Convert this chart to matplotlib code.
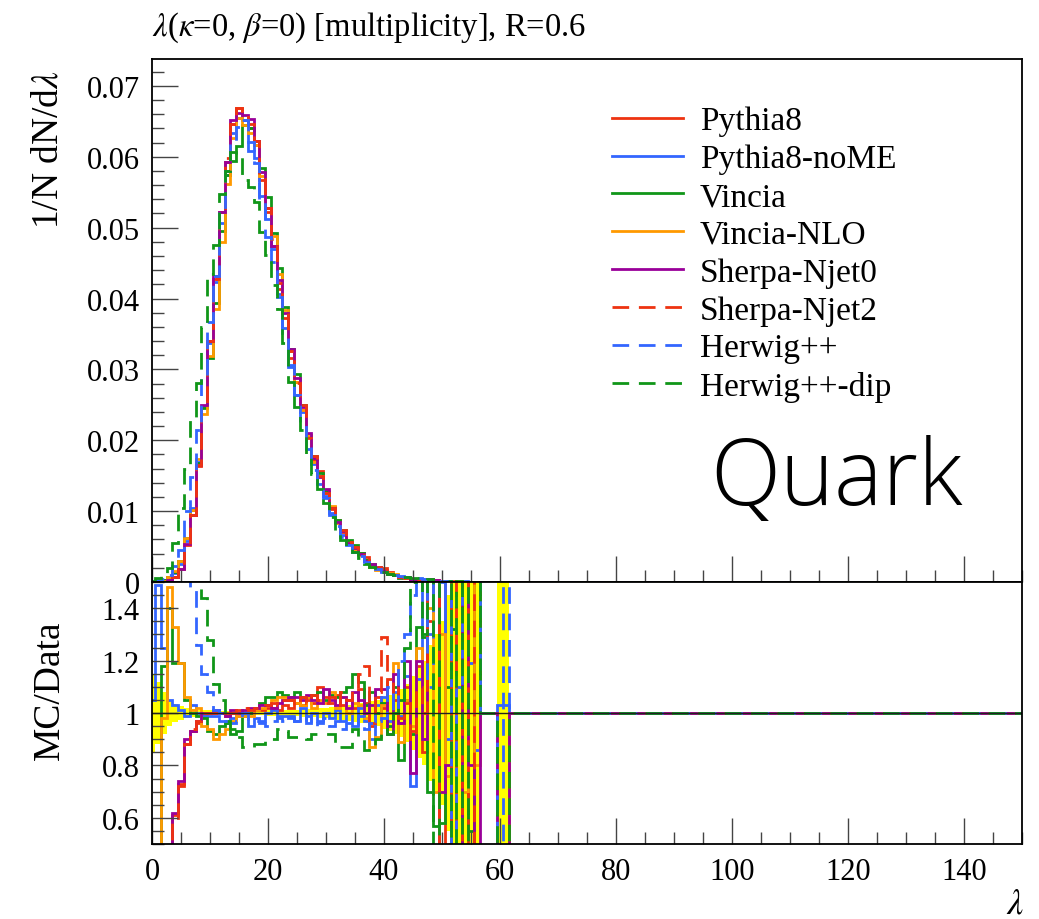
import numpy as np
import matplotlib
matplotlib.use('Agg')
import matplotlib.pyplot as plt
from matplotlib.ticker import MultipleLocator, FormatStrFormatter

plt.rcParams['font.family'] = ['Liberation Serif', 'DejaVu Serif']
plt.rcParams['mathtext.fontset'] = 'stix'

# reference distribution 1/N dN/dlambda, bins centred on 0..61
data = [
    0.00005, 0.0001, 0.0002, 0.0005, 0.0012, 0.0025, 0.0059, 0.0101, 0.0170, 0.0250,
    0.0340, 0.0428, 0.0522, 0.0598, 0.0646, 0.0662, 0.0652, 0.0640, 0.0610, 0.0562,
    0.0512, 0.0465, 0.0410, 0.0362, 0.0310, 0.0272, 0.0235, 0.0196, 0.0166, 0.0143,
    0.0121, 0.0099, 0.0082, 0.0068, 0.0054, 0.0045, 0.0037, 0.0030, 0.0024, 0.0019,
    0.0015, 0.0012, 0.00092, 0.00072, 0.00055, 0.00042, 0.00032, 0.00024, 0.00018, 0.00013,
    0.0001, 0.00007, 0.00005, 0.00004, 0.00003, 0.00002, 0.000015, 0.0, 0.0, 0.0,
    0.000005, 0.000005]

# relative uncertainty of the reference (yellow band)
data_err = [
    0.15, 0.12, 0.08, 0.05, 0.035, 0.025, 0.02, 0.015, 0.012, 0.010,
    0.010, 0.008, 0.008, 0.008, 0.008, 0.008, 0.008, 0.008, 0.009, 0.009,
    0.010, 0.010, 0.010, 0.012, 0.012, 0.013, 0.014, 0.015, 0.016, 0.018,
    0.020, 0.022, 0.025, 0.028, 0.030, 0.033, 0.037, 0.040, 0.045, 0.050,
    0.060, 0.070, 0.080, 0.090, 0.110, 0.140, 0.170, 0.200, 0.260, 0.300,
    0.350, 0.450, 0.500, 0.700, 1.000, 0.800, 1.000, 0.0, 0.0, 0.0,
    1.000, 1.000]

# MC / data ratios
pythia8 = [
    0.30, 0.30, 0.35, 0.45, 0.61, 0.73, 0.88, 0.93, 0.96, 0.99,
    1.00, 1.00, 1.00, 0.99, 1.00, 1.01, 1.00, 1.00, 1.01, 1.01,
    1.02, 1.02, 1.01, 1.03, 1.02, 1.04, 1.03, 1.05, 1.04, 1.10,
    1.06, 1.04, 1.07, 1.03, 1.05, 1.02, 1.09, 1.04, 0.95, 1.06,
    1.02, 1.13, 1.05, 0.96, 1.10, 0.93, 1.18, 0.85, 1.35, 1.70,
    0.20, 2.00, 0.00, 3.00, 0.00, 2.50, 1.90, 1.00, 1.00, 1.00,
    0.00, 0.00]
pythia8_nome = [
    1.05, 1.49, 1.25, 1.05, 1.03, 1.01, 0.99, 1.03, 1.00, 0.99,
    0.99, 0.99, 0.97, 0.96, 0.98, 0.99, 1.00, 0.95, 0.98, 0.97,
    1.00, 1.01, 0.99, 0.99, 0.98, 0.97, 1.02, 0.96, 1.00, 0.97,
    1.00, 0.98, 1.01, 0.97, 1.00, 0.95, 1.02, 0.97, 0.90, 1.03,
    1.06, 0.97, 1.08, 0.99, 1.14, 0.72, 1.13, 1.60, 1.30, 1.60,
    2.00, 0.90, 0.40, 1.10, 2.20, 1.19, 0.86, 1.00, 1.00, 1.00,
    1.03, 1.03]
vincia = [
    0.30, 0.20, 1.18, 1.40, 1.19, 1.19, 1.05, 1.00, 0.99, 0.98,
    0.93, 0.92, 0.95, 0.96, 0.92, 0.93, 0.99, 1.00, 1.02, 1.04,
    1.06, 1.06, 1.08, 1.07, 1.06, 1.08, 1.06, 1.06, 1.07, 1.08,
    1.05, 1.07, 1.06, 1.08, 1.10, 1.15, 1.12, 1.03, 1.08, 1.00,
    1.04, 0.95, 1.10, 0.82, 1.05, 0.92, 1.33, 1.29, 0.70, 0.57,
    0.58, 1.10, 1.32, 0.00, 2.00, 0.55, 2.00, 1.00, 1.00, 1.00,
    0.00, 0.00]
vincia_nlo = [
    0.30, 0.45, 0.98, 1.48, 1.33, 1.19, 1.06, 1.01, 1.02, 0.95,
    0.94, 0.90, 0.92, 0.94, 0.97, 0.99, 0.99, 0.99, 1.01, 1.02,
    1.03, 1.05, 1.06, 1.06, 1.05, 1.04, 1.03, 1.06, 1.02, 1.05,
    1.04, 1.08, 1.02, 1.06, 1.00, 1.04, 1.03, 0.98, 0.87, 0.91,
    1.03, 1.00, 1.19, 0.89, 1.05, 0.95, 1.25, 0.90, 1.40, 0.70,
    1.30, 0.76, 0.45, 2.50, 0.70, 1.60, 0.80, 1.00, 1.00, 1.00,
    0.00, 0.00]
sherpa_njet0 = [
    0.30, 0.30, 0.35, 0.45, 0.62, 0.74, 0.90, 0.93, 0.97, 1.00,
    1.00, 1.01, 1.00, 0.99, 1.01, 1.00, 1.01, 1.02, 1.02, 1.03,
    1.03, 1.02, 1.04, 1.05, 1.06, 1.06, 1.05, 1.07, 1.05, 1.04,
    1.09, 1.05, 1.03, 1.06, 1.02, 1.08, 1.05, 1.00, 1.03, 1.09,
    1.09, 0.92, 1.15, 0.96, 1.20, 0.77, 1.20, 0.90, 2.00, 1.80,
    0.70, 0.80, 0.00, 0.30, 2.00, 0.80, 0.30, 1.00, 1.00, 1.00,
    0.00, 0.00]
sherpa_njet2 = [
    0.30, 0.30, 0.35, 0.45, 0.60, 0.72, 0.88, 0.94, 0.97, 1.00,
    1.00, 1.00, 1.01, 1.00, 1.00, 1.01, 1.02, 1.01, 1.02, 1.02,
    1.03, 1.04, 1.03, 1.05, 1.05, 1.03, 1.06, 1.04, 1.07, 1.05,
    1.04, 1.06, 1.03, 1.08, 1.05, 1.09, 1.15, 1.18, 0.96, 1.08,
    1.29, 1.05, 1.12, 0.98, 1.04, 0.90, 1.10, 1.00, 1.60, 2.20,
    0.20, 0.50, 2.50, 0.00, 1.80, 0.40, 2.50, 1.00, 1.00, 1.00,
    0.00, 0.00]
herwig = [
    3.00, 2.50, 2.20, 2.00, 1.90, 1.80, 1.70, 1.47, 1.26, 1.15,
    1.08, 1.01, 1.00, 0.97, 0.96, 0.97, 1.00, 0.97, 0.97, 0.96,
    0.95, 0.97, 0.98, 0.97, 0.99, 0.97, 0.96, 0.99, 0.95, 0.96,
    0.98, 0.95, 0.97, 0.94, 0.96, 0.95, 0.99, 0.94, 0.96, 0.97,
    0.98, 1.10, 1.00, 1.20, 1.30, 1.45, 1.70, 2.00, 1.10, 1.80,
    1.50, 2.20, 0.30, 1.10, 2.50, 1.80, 2.50, 1.00, 1.00, 1.00,
    0.00, 3.00]
herwig_dip = [
    4.00, 5.00, 5.00, 4.00, 4.60, 4.20, 2.70, 2.26, 1.65, 1.44,
    1.28, 1.11, 1.05, 0.97, 0.94, 0.91, 0.87, 0.87, 0.88, 0.88,
    0.90, 0.90, 0.94, 0.93, 0.91, 0.91, 0.91, 0.90, 0.92, 0.92,
    0.92, 0.92, 0.87, 0.87, 0.87, 0.94, 0.90, 0.86, 0.87, 0.90,
    0.94, 0.92, 1.00, 1.05, 1.25, 1.50, 1.70, 1.30, 2.00, 0.30,
    1.70, 2.00, 0.40, 2.20, 0.20, 2.50, 2.00, 1.00, 1.00, 1.00,
    0.00, 0.00]

labels = ['Pythia8', 'Pythia8-noME', 'Vincia', 'Vincia-NLO',
          'Sherpa-Njet0', 'Sherpa-Njet2', 'Herwig++', 'Herwig++-dip']
ratios = [pythia8, pythia8_nome, vincia, vincia_nlo,
          sherpa_njet0, sherpa_njet2, herwig, herwig_dip]
colors = ['#ee3311', '#3366ff', '#109618', '#ff9900',
          '#990099', '#ee3311', '#3366ff', '#109618']
dash = (0, (6, 3.5))
styles = ['-', '-', '-', '-', '-', dash, dash, dash]

# unit bins centred on integers, running out to lambda = 150
edges = np.append(np.arange(-0.5, 149.6, 1.0), 150.0)
nb = len(edges) - 1


def pad(a, fill):
    a = np.asarray(a, dtype=float)
    return np.concatenate([a, np.full(nb - len(a), fill)])


ref = pad(data, 0.0)
err = pad(data_err, 0.0)

fig = plt.figure(figsize=(10.39, 9.2), dpi=100)
ax1 = fig.add_axes([0.1463, 0.3663, 0.8373, 0.5685])
ax2 = fig.add_axes([0.1463, 0.0815, 0.8373, 0.2848])

# ratio band and reference line
ax2.stairs(1 + err, edges, baseline=1 - err, fill=True, color='#ffff00', lw=0)
ax2.axhline(1.0, color='#222222', lw=1.0)

for lab, r, c, ls in zip(labels, ratios, colors, styles):
    r = pad(r, 1.0)
    mc = ref * r
    rr = np.where(ref > 0, r, 1.0)
    ax1.stairs(mc, edges, baseline=None, color=c, lw=2.0, linestyle=ls, label=lab)
    ax2.stairs(rr, edges, baseline=None, color=c, lw=2.0, linestyle=ls)

ax1.set_xlim(0, 150)
ax1.set_ylim(0, 0.0738)
ax2.set_xlim(0, 150)
ax2.set_ylim(0.5, 1.5)

for ax in (ax1, ax2):
    ax.xaxis.set_major_locator(MultipleLocator(20))
    ax.xaxis.set_minor_locator(MultipleLocator(5))
    ax.tick_params(which='both', direction='in', top=False, right=False,
                   labelsize=22, color='#444444')
    ax.tick_params(which='major', length=19, width=1.0)
    ax.tick_params(which='minor', length=8.5, width=1.0)
    for s in ax.spines.values():
        s.set_linewidth(1.3)

ax1.yaxis.set_major_locator(MultipleLocator(0.01))
ax1.yaxis.set_minor_locator(MultipleLocator(0.002))
ax1.yaxis.set_major_formatter(FormatStrFormatter('%g'))
ax1.tick_params(axis='x', labelbottom=False)
ax1.tick_params(axis='y', pad=9)

ax2.yaxis.set_major_locator(MultipleLocator(0.2))
ax2.yaxis.set_minor_locator(MultipleLocator(0.05))
ax2.yaxis.set_major_formatter(FormatStrFormatter('%g'))
ax2.tick_params(axis='y', pad=9)
ax2.tick_params(axis='x', pad=9)

ax1.legend(loc='upper left', bbox_to_anchor=((612 - 152) / 870, (583 - 107) / 523),
           frameon=False, fontsize=24, handlelength=2.13, handletextpad=0.5,
           labelspacing=0.22, borderaxespad=0, borderpad=0)

ax1.text(0.932, 0.149, 'Quark', transform=ax1.transAxes, ha='right', va='baseline',
         fontsize=66, family=['Open Sans', 'DejaVu Sans'], fontweight='light')

fig.text(152 / 1039, 1 - 36 / 920,
         r'$\lambda$($\kappa$=0, $\beta$=0) [multiplicity], R=0.6',
         ha='left', va='baseline', fontsize=23.5)
fig.text(48 / 1039, 1 - 150 / 920, r'1/N dN/d$\lambda$', rotation=90,
         ha='center', va='center', fontsize=27)
fig.text(50 / 1039, 1 - 690 / 920, 'MC/Data', rotation=90,
         ha='center', va='center', fontsize=27)
fig.text(1015 / 1039, 1 - 905 / 920, r'$\lambda$', ha='center', va='center', fontsize=26)

fig.savefig('out.png', dpi=100)
